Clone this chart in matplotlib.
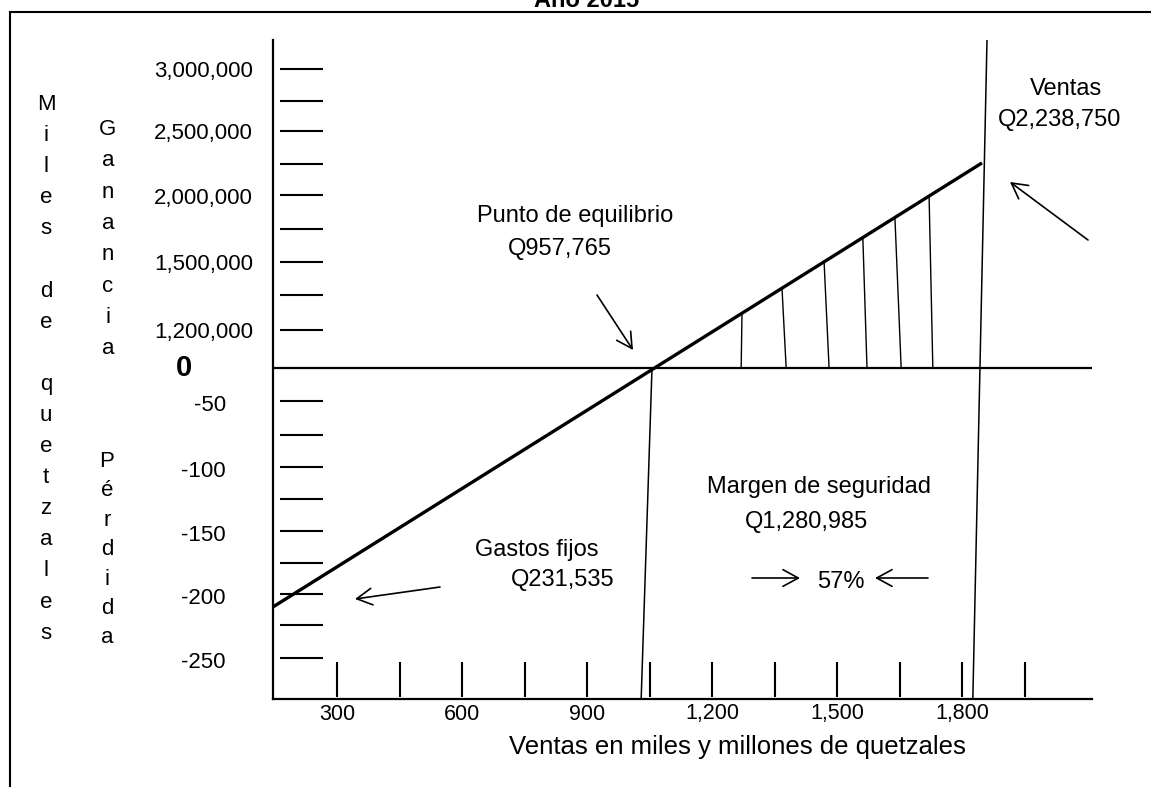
import numpy as np
import matplotlib
matplotlib.use("Agg")
import matplotlib.pyplot as plt
from matplotlib.patches import FancyArrowPatch
from matplotlib.transforms import blended_transform_factory

plt.rcParams["font.family"] = ["Liberation Sans", "DejaVu Sans"]

# --- datos (ventas en miles de Q, resultado en niveles de la escala) ---
ventas_x = [146, 1848]
resultado_y = [-7.33, 6.29]
equilibrio_x = [1056, 1030]        # linea punto de equilibrio (arriba, abajo)
ventas_tot_x = [1860, 1826]        # linea de ventas totales (arriba, abajo)
rayas_sup = [1272, 1368, 1469, 1562, 1639, 1721]
rayas_inf = [1270, 1378, 1481, 1572, 1654, 1730]

marcas_x = [300, 450, 600, 750, 900, 1050, 1200, 1350, 1500, 1650, 1800, 1950]
etiquetas_x = ["300", "", "600", "", "900", "", "1,200", "", "1,500", "", "1,800", ""]

niveles_ganancia = [1.17, 2.24, 3.25, 4.26, 5.3, 6.26, 7.27, 8.19, 9.17]
etiquetas_ganancia = ["1,200,000", "", "1,500,000", "", "2,000,000", "", "2,500,000", "", "3,000,000"]
niveles_perdida = [-1.01, -2.06, -3.04, -4.02, -5.0, -5.98, -6.93, -7.88, -8.9]
etiquetas_perdida = ["-50", "", "-100", "", "-150", "", "-200", "", "-250"]

W, H = 1151, 787


def fx(px):
    return px / W


def fy(py):
    return 1 - py / H


fig = plt.figure(figsize=(W / 100, H / 100), dpi=100)

# marco exterior (arriba e izquierda)
fig.add_artist(plt.Line2D([fx(10), 1], [fy(12), fy(12)], color="black", lw=1.5))
fig.add_artist(plt.Line2D([fx(10), fx(10)], [fy(12), 0], color="black", lw=1.5))
fig.text(fx(587), fy(7), "Año 2015", ha="center", va="baseline", fontsize=17, fontweight="bold")

ax = fig.add_axes([fx(273), fy(699), (1092 - 273) / W, (699 - 40) / H])
ax.set_xlim(146.4, 2112)
ax.set_ylim(-10.15, 10.06)
for s in ["top", "right"]:
    ax.spines[s].set_visible(False)
for s in ["left", "bottom"]:
    ax.spines[s].set_linewidth(1.6)
ax.set_xticks([])
ax.set_yticks([])
ax.patch.set_alpha(0)

# linea cero, lineas de ventas
ax.axhline(0, color="black", lw=1.6)
ax.plot(ventas_x, resultado_y, color="black", lw=2.4, solid_capstyle="butt")
ax.plot(equilibrio_x, [0, ax.get_ylim()[0]], color="black", lw=1.1)
ax.plot(ventas_tot_x, [ax.get_ylim()[1], ax.get_ylim()[0]], color="black", lw=1.1)

# rayado del area de ganancia
top_y = np.interp(rayas_sup, ventas_x, resultado_y)
for xs, xi, yt in zip(rayas_sup, rayas_inf, top_y):
    ax.plot([xs, xi], [yt, 0], color="black", lw=1.0)

# marcas de la escala vertical y horizontal
ax.hlines(niveles_ganancia + niveles_perdida, 163, 266, color="black", lw=1.5)
ax.vlines(marcas_x, -10.1, -9.0, color="black", lw=1.5)

tr_y = blended_transform_factory(fig.transFigure, ax.transData)
for y, t in zip(niveles_ganancia, etiquetas_ganancia):
    if t:
        ax.text(fx(253), y - 0.09, t, transform=tr_y, ha="right", va="center", fontsize=16)
for y, t in zip(niveles_perdida, etiquetas_perdida):
    if t:
        ax.text(fx(226), y - 0.13, t, transform=tr_y, ha="right", va="center", fontsize=16)
ax.text(fx(184), 0, "0", transform=tr_y, ha="center", va="center", fontsize=21, fontweight="bold")

tr_x = blended_transform_factory(ax.transData, fig.transFigure)
for x, t in zip(marcas_x, etiquetas_x):
    if t:
        ax.text(x, fy(714), t, transform=tr_x, ha="center", va="center", fontsize=15.5)

fig.text(fx(737), fy(747), "Ventas en miles y millones de quetzales", ha="center", va="center", fontsize=18.5)


# letras verticales a la izquierda
def columna(texto, x, y0, paso, size=16):
    for i, ch in enumerate(texto):
        if ch != " ":
            fig.text(fx(x), fy(y0 + i * paso), ch, ha="center", va="baseline", fontsize=size)


columna("Miles de quetzales", 46, 110, 31.1)
columna("Ganancia", 108, 135, 31.3)
columna("Pérdida", 107, 467, 29.4)


def flecha(x0, y0, x1, y1):
    fig.add_artist(FancyArrowPatch(
        (fx(x0), fy(y0)), (fx(x1), fy(y1)), transform=fig.transFigure,
        arrowstyle="->,head_length=0.55,head_width=0.3", mutation_scale=20,
        color="black", lw=1.2, shrinkA=0, shrinkB=0))


# anotaciones
fig.text(fx(575), fy(216), "Punto de equilibrio", ha="center", va="center", fontsize=17)
fig.text(fx(560), fy(249), "Q957,765", ha="center", va="center", fontsize=17)
flecha(597, 295, 633, 350)

fig.text(fx(1066), fy(89), "Ventas", ha="center", va="center", fontsize=17)
fig.text(fx(1060), fy(120), "Q2,238,750", ha="center", va="center", fontsize=17)
flecha(1088, 240, 1010, 182)

fig.text(fx(537), fy(550), "Gastos fijos", ha="center", va="center", fontsize=17)
fig.text(fx(563), fy(580), "Q231,535", ha="center", va="center", fontsize=17)
flecha(440, 587, 355, 599)

fig.text(fx(819), fy(487), "Margen de seguridad", ha="center", va="center", fontsize=17)
fig.text(fx(806), fy(522), "Q1,280,985", ha="center", va="center", fontsize=17)
fig.text(fx(841), fy(582), "57%", ha="center", va="center", fontsize=17)
flecha(752, 578, 800, 578)
flecha(928, 578, 875, 578)

fig.savefig("out.png", dpi=100)
plt.close(fig)
